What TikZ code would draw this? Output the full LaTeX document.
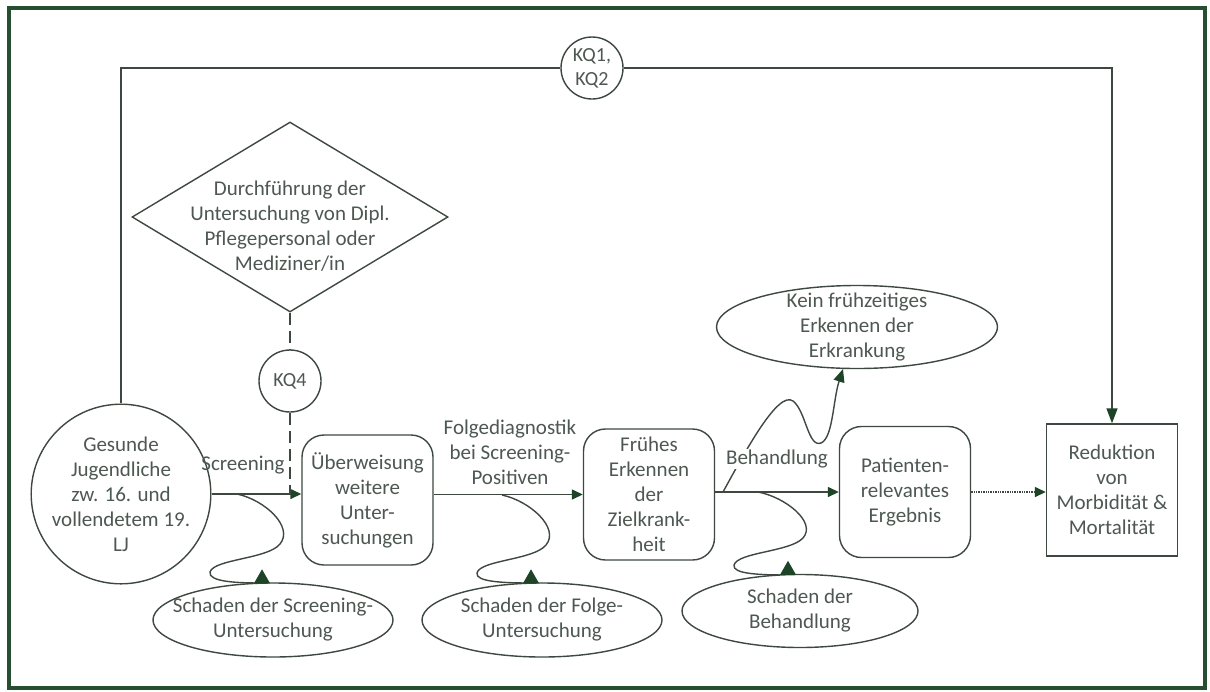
\documentclass[tikz,border=0pt]{standalone}
\usepackage{fontspec}
\setmainfont{Carlito}
\usetikzlibrary{arrows.meta,shapes.geometric,calc}
\definecolor{framegreen}{RGB}{38,78,48}
\definecolor{linecol}{RGB}{62,72,64}
\definecolor{txtcol}{RGB}{78,88,82}
\definecolor{arrcol}{RGB}{30,68,40}
\begin{document}
\begin{tikzpicture}[x=1pt,y=-1pt,
  every node/.style={font=\fontsize{21}{25}\selectfont, text=txtcol, align=center},
  ln/.style={draw=linecol, line width=1.4pt},
  arr/.style={ln, -{Triangle[length=11pt,width=10pt,color=arrcol]}},
  rbox/.style={draw=linecol, line width=1.4pt, rounded corners=22pt, minimum width=131pt, minimum height=130pt, inner sep=0pt},
  circ/.style={circle, draw=linecol, line width=1.4pt, inner sep=0pt},
  ell/.style={ellipse, draw=linecol, line width=1.4pt, fill=white, inner xsep=-20pt, inner ysep=-12pt},
  harmtip/.style={fill=arrcol}
]
\useasboundingbox (0,0) rectangle (1210,691);
\fill[white] (0,0) rectangle (1210,691);
\draw[framegreen, line width=3.5pt] (9,8) rectangle (1205,688);

% nodes
\node[circ, minimum size=162pt] (gesunde) at (121,494) {Gesunde\\Jugendliche\\zw. 16. und\\vollendetem 19.\\LJ};
\node[rbox] (ueber) at (367.5,500) {Überweisung\\weitere\\Unter-\\suchungen};
\node[rbox, minimum height=131pt] (frueh) at (649,494.5) {Frühes\\Erkennen\\der\\Zielkrank-\\heit};
\node[rbox, minimum height=131pt] (patient) at (905,492) {Patienten-\\relevantes\\Ergebnis};
\node[draw=linecol, line width=1.4pt, minimum width=131pt, minimum height=132pt, inner sep=0pt] (red) at (1112,490) {Reduktion\\von\\Morbidität \&\\Mortalität};

\node[diamond, draw=linecol, line width=1.4pt, minimum width=316pt, minimum height=190pt, inner sep=0pt] (dia) at (290,217) {};
\node (diatext) at (290,226) {Durchführung der\\Untersuchung von Dipl.\\Pflegepersonal oder\\Mediziner/in};

\node[circ, minimum size=62pt, font=\fontsize{20}{24}\selectfont] (kq12) at (592,68) {KQ1,\\KQ2};
\node[circ, minimum size=62pt, font=\fontsize{20}{24}\selectfont] (kq4) at (290,381) {KQ4};

% edge labels
\node (lscr) at (243,465) {Screening};
\node (lfolge) at (510,452) {Folgediagnostik\\bei Screening-\\Positiven};

% main connectors
\draw[ln] (gesunde.north) |- (kq12.west);
\draw[arr, -{Triangle[length=15pt,width=11pt,color=arrcol]}] (kq12.east) -| (red.north);
\draw[arr] (gesunde.east) -- (gesunde.east -| ueber.west);
\draw[arr] (ueber.east |- frueh.west) -- (frueh.west);
\draw[arr] (frueh.east |- patient.west) -- (patient.west);
\draw[arr, densely dotted] (patient.east) -- (patient.east -| red.west);
\draw[ln, dash pattern=on 12pt off 6pt] (dia.south) -- (kq4.north);
\draw[ln, dash pattern=on 12pt off 6pt] (kq4.south) -- (kq4.south |- gesunde.east);

% harm curves
\coordinate (h1) at (237,494);
\coordinate (h2) at (502,495);
\coordinate (h3) at (758,492);
\coordinate (h4) at (723,492);

\draw[ln] (h1) .. controls (265,500) and (294,527) .. (280,544) .. controls (268,559) and (214,559) .. (210,572) .. controls (208,582) and (238,583) .. (262,583);
\draw[ln] (h2) .. controls (530,501) and (560,528) .. (546,545) .. controls (534,560) and (480,560) .. (477,573) .. controls (475,582) and (505,583) .. (531,583);
\draw[ln] (h3) .. controls (785,497) and (817,522) .. (803,538) .. controls (790,552) and (738,552) .. (734,565) .. controls (732,574) and (760,575) .. (788,575);
\draw[arr, -{Triangle[length=13pt,width=11pt,color=arrcol]}] (h4) .. controls (745,452) and (778,390) .. (793,401) .. controls (806,411) and (808,448) .. (821,443) .. controls (833,438) and (833,400) .. (843,369);

\node[ell, minimum width=240pt, minimum height=74pt] (e1) at (273,620) {Schaden der Screening-\\Untersuchung};
\node[ell, minimum width=240pt, minimum height=74pt] (e2) at (542,620) {Schaden der Folge-\\Untersuchung};
\node[ell, minimum width=236pt, minimum height=73pt] (e3) at (800,611) {Schaden der\\Behandlung};
\node[ell, minimum width=281pt, minimum height=83pt] (e4) at (857,327) {Kein frühzeitiges\\Erkennen der\\Erkrankung};

\fill[harmtip] ($(e1.north)+(-19,1)$) -- ++(16,0) -- ++(-8,-14) -- cycle;
\fill[harmtip] ($(e2.north)+(-19,1)$) -- ++(16,0) -- ++(-8,-14) -- cycle;
\fill[harmtip] ($(e3.north)+(-20,1)$) -- ++(16,0) -- ++(-8,-14) -- cycle;

\node[fill=white, inner sep=1pt] (lbeh) at (777,459) {Behandlung};
\end{tikzpicture}
\end{document}
